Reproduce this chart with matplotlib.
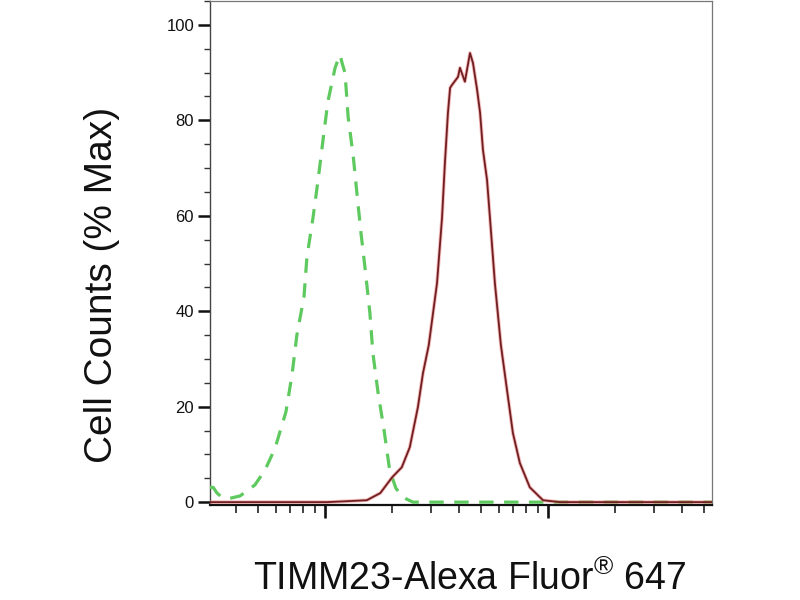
import matplotlib
matplotlib.use("Agg")
import matplotlib.pyplot as plt
from matplotlib.ticker import LogLocator, MultipleLocator, NullFormatter

plt.rcParams['font.family'] = ['Liberation Sans', 'DejaVu Sans']
plt.rcParams['mathtext.fontset'] = 'custom'
plt.rcParams['mathtext.rm'] = 'Liberation Sans'

# Isotype control (green dashed): fluorescence intensity vs % max
control_intensity = [30.5, 31.5, 32.8, 34.5, 37.5, 41.6, 48.5, 53.8, 59.7, 66.8,
                     71.1, 74.8, 80.5, 83.0, 88.3, 93.1, 98.0, 103, 111, 113,
                     117, 119, 123, 127, 134, 139, 145, 151, 159, 164,
                     173, 184, 195, 208, 224, 248, 500, 1000, 2000, 5440]
control_counts = [3.1, 3.1, 1.9, 1.0, 0.8, 1.3, 3.6, 6.7, 11.3, 18.9,
                  26.6, 35.0, 43.0, 51.4, 59.5, 67.5, 75.9, 83.9, 91.0, 92.0,
                  93.7, 92.2, 89.9, 80.7, 72.3, 64.8, 56.4, 49.3, 39.6, 31.2,
                  22.9, 15.1, 6.7, 2.9, 1.0, 0.0, 0.0, 0.0, 0.0, 0.0]

# TIMM23 stained sample (dark red solid)
sample_intensity = [30.5, 102, 126, 154, 177, 200, 221, 240, 261, 275,
                    292, 318, 335, 345, 356, 364, 371, 395, 403, 424,
                    447, 461, 481, 496, 511, 533, 549, 578, 615, 655,
                    696, 748, 829, 950, 1132, 5440]
sample_counts = [0.0, 0.0, 0.2, 0.4, 1.9, 5.2, 7.3, 11.5, 19.9, 27.0,
                 32.9, 45.9, 59.7, 71.1, 81.6, 86.8, 87.4, 89.1, 91.0, 88.1,
                 94.1, 92.0, 86.4, 81.6, 73.8, 67.5, 59.7, 45.9, 32.9, 23.5,
                 14.5, 8.2, 3.1, 0.4, 0.0, 0.0]

y_ticks = [0, 20, 40, 60, 80, 100]

fig = plt.figure(figsize=(8, 6), dpi=100)
ax = fig.add_axes([210/800, 1-505/600, (712-210)/800, (505-1)/600])

ax.plot(control_intensity, control_counts, color='#5ec95e', lw=2.3,
        dashes=(4.5, 3.3), solid_capstyle='butt', zorder=3)
ax.plot(sample_intensity, sample_counts, color='#f08080', lw=2.6, alpha=0.55, zorder=4)
ax.plot(sample_intensity, sample_counts, color='#6e1f22', lw=1.3, zorder=5)

ax.set_xscale('log')
ax.set_xlim(30.5, 5440)
ax.set_ylim(-0.6, 105)

ax.xaxis.set_major_locator(LogLocator(base=10, numticks=10))
ax.xaxis.set_minor_locator(LogLocator(base=10, subs=range(2, 10), numticks=50))
ax.xaxis.set_major_formatter(NullFormatter())
ax.xaxis.set_minor_formatter(NullFormatter())

ax.set_yticks(y_ticks)
ax.set_yticklabels([str(v) for v in y_ticks])
ax.yaxis.set_minor_locator(MultipleLocator(5))

ax.tick_params(axis='x', which='major', direction='out', length=9, width=1.9, color='#111')
ax.tick_params(axis='x', which='minor', direction='out', length=5.5, width=1.2, color='#222')
ax.tick_params(axis='y', which='major', direction='out', length=8.5, width=1.8,
               color='#111', labelsize=12, pad=3, labelcolor='#111')
ax.tick_params(axis='y', which='minor', direction='out', length=4.3, width=1.0, color='#333')

for side in ['top', 'right']:
    ax.spines[side].set_color('#777777')
    ax.spines[side].set_linewidth(0.9)
ax.spines['left'].set_color('#444444')
ax.spines['left'].set_linewidth(1.0)
ax.spines['bottom'].set_color('#111111')
ax.spines['bottom'].set_linewidth(1.6)

fig.text(470/800, 1-590/600, r'TIMM23-Alexa Fluor$^{\mathrm{®}}$ 647',
         ha='center', va='baseline', fontsize=27, color='#111')
fig.text(102/800, 1-285/600, 'Cell Counts (% Max)', rotation=90,
         ha='center', va='center', fontsize=28, color='#111')

fig.savefig('out.png', dpi=100)
